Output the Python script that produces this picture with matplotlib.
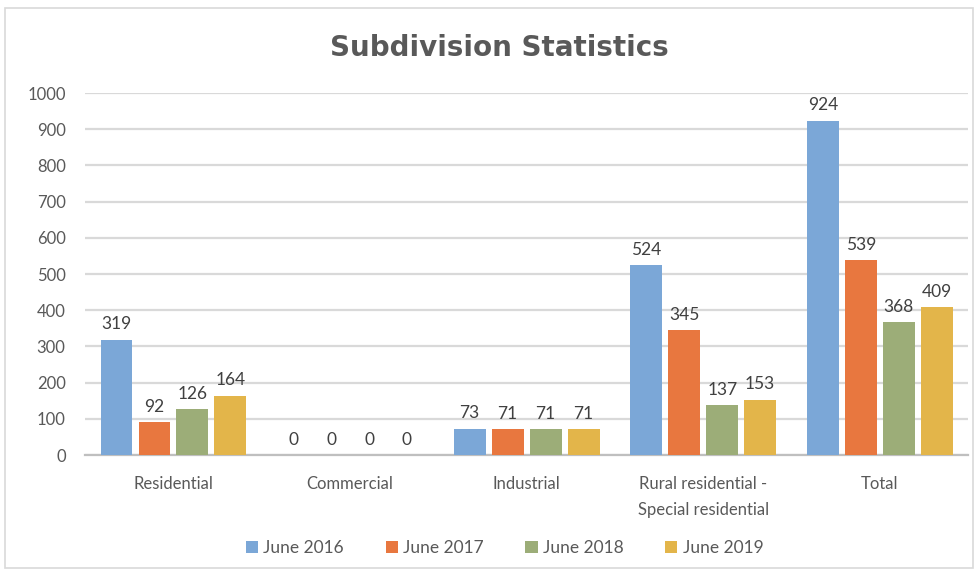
import matplotlib
matplotlib.use("Agg")
import matplotlib.pyplot as plt
from matplotlib.patches import Rectangle
import numpy as np

categories = ["Residential", "Commercial", "Industrial", "Rural residential -\nSpecial residential", "Total"]
series_names = ["June 2016", "June 2017", "June 2018", "June 2019"]
june_2016 = [319, 0, 73, 524, 924]
june_2017 = [92, 0, 71, 345, 539]
june_2018 = [126, 0, 71, 137, 368]
june_2019 = [164, 0, 71, 153, 409]
yticks = list(range(0, 1001, 100))

series = [june_2016, june_2017, june_2018, june_2019]
colors = ["#7BA7D7", "#E8773F", "#9CAD78", "#E3B54A"]

plt.rcParams['font.family'] = ['Lato', 'DejaVu Sans']

fig = plt.figure(figsize=(9.78, 5.71), dpi=100)
ax = fig.add_axes([0.087, 0.203, 0.903, 0.634])

x = np.arange(len(categories))
width = 0.18
step = 0.215
for i, (vals, col, name) in enumerate(zip(series, colors, series_names)):
    pos = x + (i - 1.5) * step
    ax.bar(pos, vals, width=width, color=col, label=name, zorder=3)
    for p, v in zip(pos, vals):
        ax.text(p, v + 20, str(v), ha='center', va='bottom', fontsize=12.5, color='#404040')

ax.set_xlim(-0.5, len(categories) - 0.5)
ax.set_ylim(0, 1000)
ax.set_yticks(yticks)
ax.set_yticklabels([str(t) for t in yticks], fontsize=12, color='#595959')
ax.set_xticks(x)
ax.set_xticklabels(categories, fontsize=12, color='#595959', linespacing=1.75)
ax.tick_params(axis='y', length=0, pad=14)
ax.tick_params(axis='x', length=0, pad=15)
ax.yaxis.grid(True, color='#D9D9D9', linewidth=1.6, zorder=0)
for s in ['top', 'right', 'left']:
    ax.spines[s].set_visible(False)
ax.spines['bottom'].set_color('#BFBFBF')
ax.spines['bottom'].set_linewidth(1.6)

fig.text(0.511, 0.916, "Subdivision Statistics", ha='center', va='center',
         fontsize=20, fontweight='bold', color='#595959', family='DejaVu Sans')

fig.legend(loc='center', bbox_to_anchor=(0.516, 0.04), ncol=4, frameon=False,
           fontsize=12.5, handlelength=0.7, handleheight=0.7, handletextpad=0.3,
           columnspacing=2.4, labelcolor='#595959')

fig.patches.append(Rectangle((0.005, 0.005), 0.99, 0.981, transform=fig.transFigure,
                             fill=False, edgecolor='#D9D9D9', linewidth=1.2))

fig.savefig("out.png", dpi=100)
